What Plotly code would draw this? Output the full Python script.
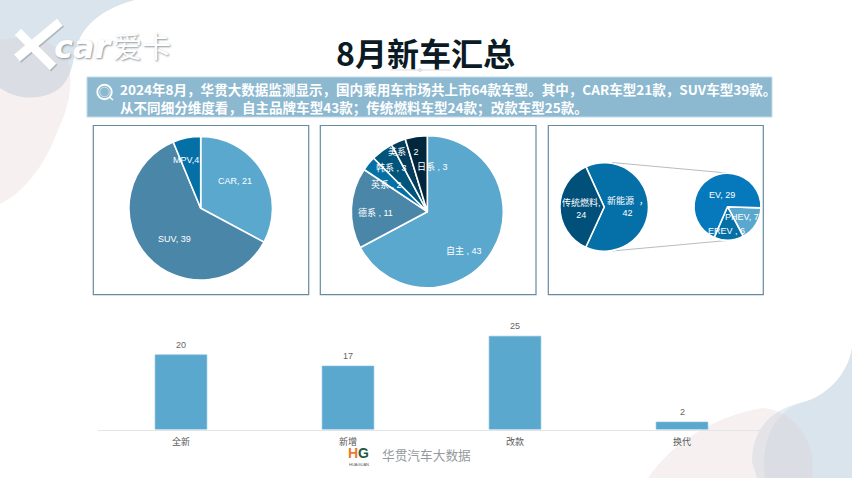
import plotly.graph_objects as go

W, H = 852, 478

# ---- data ----
body_types = ["CAR", "SUV", "MPV"]
body_values = [21, 39, 4]
brand_types = ["自主", "德系", "英系", "韩系", "美系", "日系"]
brand_values = [43, 11, 2, 3, 2, 3]
fuel_types = ["新能源", "传统燃料"]
fuel_values = [42, 24]
nev_types = ["PHEV", "EREV", "EV"]
nev_values = [7, 6, 29]
launch_types = ["全新", "新增", "改款", "换代"]
launch_values = [20, 17, 25, 2]

title_text = "8月新车汇总"
summary_1 = "2024年8月，华贯大数据监测显示，国内乘用车市场共上市64款车型。其中，CAR车型21款，SUV车型39款。"
summary_2 = "从不同细分维度看，自主品牌车型43款；传统燃料车型24款；改款车型25款。"

CJK = "Noto Sans CJK SC"
LAT = "Liberation Sans, Noto Sans CJK SC"


def px(x):
    return x / W


def py(y):
    return 1 - y / H


def pie_domain(cx, cy, r):
    return dict(x=[px(cx - r), px(cx + r)], y=[py(cy + r), py(cy - r)])


def pie(labels, values, colors, cx, cy, r, rotation=0):
    return go.Pie(
        labels=labels, values=values, sort=False, direction="clockwise",
        rotation=rotation, textinfo="none", hoverinfo="label+value",
        marker=dict(colors=colors, line=dict(color="white", width=1.6)),
        domain=pie_domain(cx, cy, r), showlegend=False,
    )


fig = go.Figure()
fig.add_trace(pie(body_types, body_values, ["#5ba8cf", "#4a86a8", "#0570a6"], 200.7, 208.3, 71.8))
fig.add_trace(pie(brand_types, brand_values,
                  ["#5ba8cf", "#4a86a8", "#0570a6", "#02557a", "#033d5c", "#02263c"], 427.3, 211.7, 76))
fig.add_trace(pie(fuel_types, fuel_values, ["#0570a8", "#00507a"], 604.2, 207, 44.3, rotation=335.5))
fig.add_trace(pie(nev_types, nev_values, ["#5ba8cf", "#0570a6", "#0579bb"], 727.5, 206.7, 33.5, rotation=92))

fig.add_trace(go.Bar(
    x=launch_types, y=launch_values, width=0.31,
    marker=dict(color="#5ba8cf", line=dict(color="#7fbcdb", width=0.6)),
    cliponaxis=False, xaxis="x", yaxis="y", showlegend=False,
))

shapes = []


def path(d, fill, layer="below"):
    shapes.append(dict(type="path", xref="paper", yref="paper", path=d, fillcolor=fill,
                       line=dict(width=0), layer=layer))


def P(x, y):
    return f"{px(x):.5f},{py(y):.5f}"


PINK = "rgba(225,205,208,0.3)"
BLUE = "#d9e4ec"
# top-left blobs
path(f"M {P(0,0)} L {P(135,0)} C {P(105,8)} {P(88,22)} {P(80,38)} C {P(72,55)} {P(75,72)} {P(62,86)} "
     f"C {P(48,100)} {P(20,102)} {P(0,88)} Z", BLUE)
path(f"M {P(0,40)} C {P(25,36)} {P(58,38)} {P(68,62)} C {P(74,85)} {P(68,110)} {P(58,130)} "
     f"C {P(45,165)} {P(25,192)} {P(0,204)} Z", PINK)
# bottom-right blobs
path(f"M {P(852,348)} C {P(848,375)} {P(825,398)} {P(800,403)} C {P(770,410)} {P(752,430)} {P(752,462)} "
     f"L {P(757,478)} L {P(852,478)} Z", "rgba(217,228,236,0.65)")
path(f"M {P(852,348)} C {P(848,375)} {P(825,398)} {P(800,403)} C {P(775,412)} {P(760,440)} {P(765,478)} "
     f"L {P(852,478)} Z", BLUE)
path(f"M {P(648,478)} C {P(670,445)} {P(715,415)} {P(763,408)} C {P(795,410)} {P(818,445)} {P(812,478)} Z", PINK)


def rect(x0, y0, x1, y1, fill=None, color=None, width=1.0):
    shapes.append(dict(type="rect", xref="paper", yref="paper", x0=px(x0), x1=px(x1), y0=py(y1), y1=py(y0),
                       fillcolor=fill or "rgba(0,0,0,0)", line=dict(color=color, width=width if color else 0),
                       layer="below"))


def seg(x0, y0, x1, y1, color, width=1.0, layer="below"):
    shapes.append(dict(type="line", xref="paper", yref="paper", x0=px(x0), x1=px(x1), y0=py(y0), y1=py(y1),
                       line=dict(color=color, width=width), layer=layer))


def circ(cx, cy, r, color, width):
    shapes.append(dict(type="circle", xref="paper", yref="paper", x0=px(cx - r), x1=px(cx + r),
                       y0=py(cy + r), y1=py(cy - r), line=dict(color=color, width=width), layer="above"))


# header band and panels
rect(87, 77, 772, 117, fill="#8cb8d0", color="#c3dbe8", width=1)
for x0, x1 in [(93.3, 308.7), (320.3, 536), (548.3, 763.3)]:
    rect(x0, 125.5, x1, 294.7, fill="white", color="#668a9f", width=1.2)

# title underline
seg(390, 70, 451, 70, "#dddddd", 1)
circ(420, 70, 1.5, "#cfcfcf", 0.8)

# connector lines of the pie-of-pie
seg(612, 162.5, 727, 173, "#b9bcbd", 1)
seg(612, 251, 727, 240.5, "#b9bcbd", 1)

# search icon
circ(104.5, 92, 7.2, "rgba(255,255,255,0.95)", 2)
circ(104.5, 92, 4.8, "rgba(255,255,255,0.55)", 1)
seg(109.5, 97, 113, 100, "white", 1.5, "above")

# Xcar logo strokes
for dx, c in [(1.2, "rgba(120,130,140,0.45)"), (0, "white")]:
    seg(18 + dx, 32 + dx, 53 + dx, 67 + dx, c, 9, "above")
    seg(60 + dx, 22 + dx, 17 + dx, 58 + dx, c, 9, "above")

ann = []


def text(x, y, s, size=9, color="white", family=LAT, anchor="center", align="center", **font):
    ann.append(dict(x=px(x), y=py(y), xref="paper", yref="paper", text=s, showarrow=False, xanchor=anchor,
                    yanchor="middle", align=align, font=dict(family=family, size=size, color=color, **font)))


text(425.5, 52, title_text, size=32, color="#0b1a24", family=CJK, weight="bold")
text(118, 98.2, f"{summary_1}<br>{summary_2}", size=13.55, family=CJK, anchor="left", align="left", weight="bold")

sh = "1px 1px 2px #8a949c"
text(83, 47, "car", size=32, family="DejaVu Sans", style="italic", weight="bold", shadow=sh)
text(142, 45, "爱卡", size=29, family=CJK, shadow=sh)

# pie labels
label_font = dict(size=9)
text(234.7, 181.3, f"{body_types[0]}, {body_values[0]}", **label_font)
text(174.3, 239.3, f"{body_types[1]}, {body_values[1]}", **label_font)
text(186, 160.3, f"{body_types[2]},{body_values[2]}", **label_font)

brand_pos = [(464, 250.3), (375.3, 212.3), (386.7, 184), (391.3, 167), (403.3, 151.7), (432.7, 167.3)]
for (x, y), n, v in zip(brand_pos, brand_types, brand_values):
    text(x, y, f"{n} , {v}", **label_font)

text(581, 208, f"{fuel_types[1]},<br>{fuel_values[1]}", **label_font)
text(627, 206, f"{fuel_types[0]}  ，<br>{fuel_values[0]}", **label_font)
text(722, 195.3, f"{nev_types[2]}, {nev_values[2]}", **label_font)
text(741.5, 217, f"{nev_types[0]}, {nev_values[0]}", **label_font)
text(726.7, 230.7, f"{nev_types[1]} , {nev_values[1]}", **label_font)

# bar value labels, tied to the bars through the axes
for cat, val in zip(launch_types, launch_values):
    ann.append(dict(x=cat, y=val, xref="x", yref="y", text=str(val), showarrow=False, yshift=10,
                    font=dict(family=LAT, size=9, color="#666666")))

# HG logo and source
text(353, 453, "H", size=14, color="#e87a2d", family="Liberation Sans", weight="bold")
text(363.5, 453, "G", size=14, color="#1e5a3e", family="Liberation Sans", weight="bold")
text(359, 464, "HUAGUAN", size=4, color="#555555", family="Liberation Sans")
text(426, 454, "华贯汽车大数据", size=12.7, color="#969a9e", family=CJK)

fig.update_layout(
    width=W, height=H, autosize=False, margin=dict(l=0, r=0, t=0, b=0),
    paper_bgcolor="white", plot_bgcolor="rgba(0,0,0,0)",
    shapes=shapes, annotations=ann, showlegend=False,
    xaxis=dict(domain=[px(97.5), px(765.5)], type="category", showline=True, linecolor="#e4e4e4", linewidth=1,
               ticks="outside", ticklen=4, tickcolor="rgba(0,0,0,0)", showgrid=False,
               tickfont=dict(family=CJK, size=9, color="#595959"), fixedrange=True),
    yaxis=dict(domain=[py(429.5), py(317.5)], range=[0, 30], visible=False, fixedrange=True),
)

fig.write_html("out.html", config=dict(displayModeBar=False),
               post_script="document.body.style.margin='0';document.body.style.overflow='hidden';")
